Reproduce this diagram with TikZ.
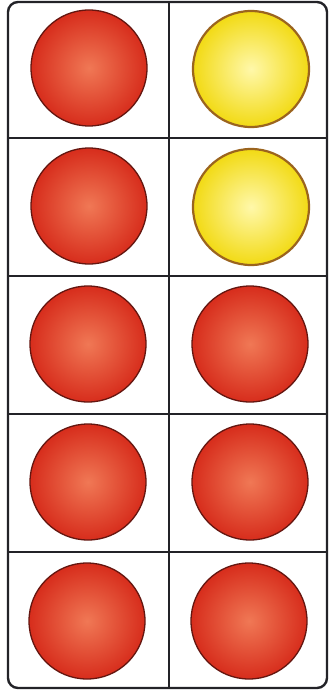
\documentclass[tikz,border=0pt]{standalone}
\usetikzlibrary{calc}
\definecolor{gridline}{RGB}{35,35,40}
\definecolor{redin}{RGB}{240,120,85}
\definecolor{redout}{RGB}{215,45,28}
\definecolor{rededge}{RGB}{100,22,16}
\definecolor{yelin}{RGB}{255,248,170}
\definecolor{yelout}{RGB}{242,218,20}
\definecolor{yeledge}{RGB}{155,100,30}
\tikzset{
  redball/.style={circle, minimum size=116pt, inner sep=0pt, draw=rededge, line width=1.3pt, inner color=redin, outer color=redout},
  yelball/.style={circle, minimum size=116pt, inner sep=0pt, draw=yeledge, line width=2.2pt, inner color=yelin, outer color=yelout},
  frame/.style={draw=gridline, line width=2.4pt}
}
\begin{document}
\begin{tikzpicture}[x=1pt,y=-1pt]
\useasboundingbox[fill=white] (0,0) rectangle (331,695);
\draw[frame, rounded corners=10pt] (8,2) rectangle (327,688);
\draw[frame] (169,2) -- (169,688);
\foreach \yy in {138,276,414,552} \draw[frame] (8,\yy) -- (327,\yy);
\node[redball] (r1) at (89,68) {};
\node[yelball] (y1) at (251,69) {};
\node[redball] (r2) at (89,206) {};
\node[yelball] (y2) at (251,207) {};
\node[redball] (r3) at (88,344) {};
\node[redball] (r4) at (250,344) {};
\node[redball] (r5) at (88,482) {};
\node[redball] (r6) at (250,482) {};
\node[redball] (r7) at (87,621) {};
\node[redball] (r8) at (249,621) {};
\end{tikzpicture}
\end{document}
